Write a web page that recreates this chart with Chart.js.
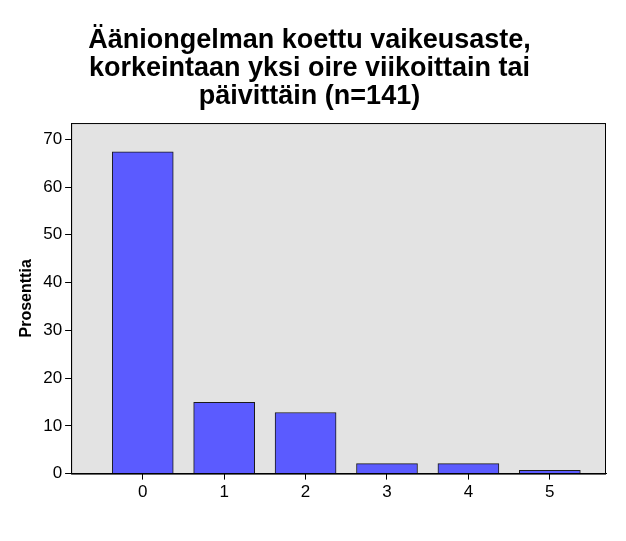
<!DOCTYPE html>
<html><head><meta charset="utf-8">
<script src="https://cdn.jsdelivr.net/npm/chart.js@4"></script>
<style>body{margin:0;background:#fff}#w{width:626px;height:541px}</style>
</head><body><div id="w"><canvas id="c"></canvas></div>
<script>
const categories=[0,1,2,3,4,5];
const percents=[67.4,14.9,12.8,2.1,2.1,0.7];
const yTicks=[0,10,20,30,40,50,60,70];
const titleLines=["Ääniongelman koettu vaikeusaste,","korkeintaan yksi oire viikoittain tai","päivittäin (n=141)"];
const bgPlugin={id:'bg',beforeDraw(ch){const a=ch.chartArea,c=ch.ctx;c.save();c.fillStyle='#e3e3e3';c.fillRect(a.left,a.top,a.right-a.left,a.bottom-a.top);c.strokeStyle='#000';c.lineWidth=1;c.strokeRect(a.left+0.5,a.top+0.5,a.right-a.left-1,a.bottom-a.top);c.restore();}};
new Chart(document.getElementById('c'),{type:'bar',
data:{datasets:[{data:categories.map((x,i)=>({x:x,y:percents[i]})),backgroundColor:'#5b5bff',borderColor:'#1a1a1a',borderWidth:1,barThickness:61}]},
options:{responsive:true,maintainAspectRatio:false,animation:false,
layout:{padding:{left:13,right:20,top:26,bottom:35}},
plugins:{legend:{display:false},tooltip:{enabled:false},
title:{display:true,text:titleLines,color:'#000',font:{family:'Liberation Sans, Arial',size:27,weight:'bold',lineHeight:1.05},padding:{top:0,bottom:12}}},
scales:{x:{type:'linear',offset:false,min:-0.88,max:5.69,grid:{offset:false,drawOnChartArea:false,tickLength:6,color:'#000'},border:{color:'#000'},
afterBuildTicks(s){s.ticks=categories.map(v=>({value:v}));},
ticks:{color:'#000',font:{family:'Liberation Sans, Arial',size:17},callback:v=>String(v)}},
y:{min:0,max:73.4,grid:{drawOnChartArea:false,tickLength:6,color:'#000'},border:{color:'#000'},
afterBuildTicks(s){s.ticks=yTicks.map(v=>({value:v}));},
ticks:{color:'#000',font:{family:'Liberation Sans, Arial',size:17}},
title:{display:true,text:'Prosenttia',color:'#000',font:{family:'Liberation Sans, Arial',size:16,weight:'bold'}}}}},
plugins:[bgPlugin]});
</script></body></html>
